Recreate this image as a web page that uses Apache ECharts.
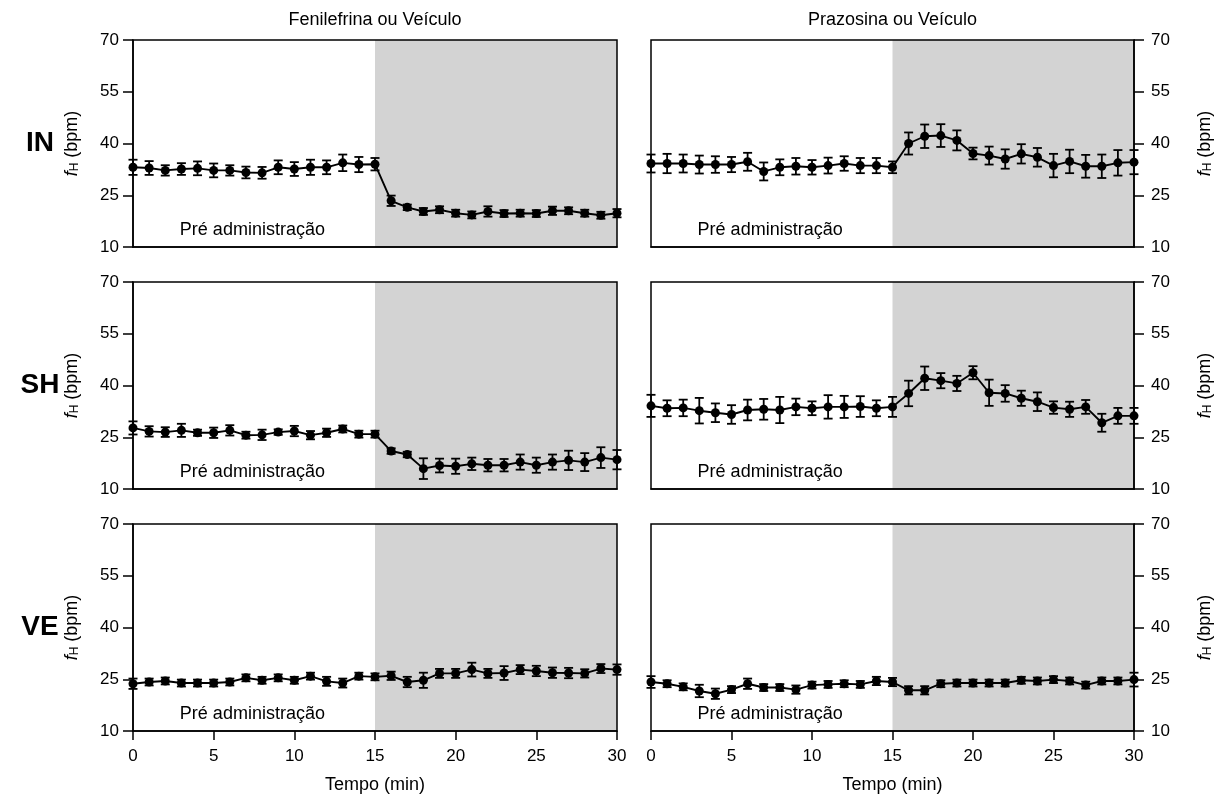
<!DOCTYPE html>
<html>
<head>
<meta charset="utf-8">
<script src="https://cdn.jsdelivr.net/npm/echarts@6/dist/echarts.min.js"></script>
<style>html,body{margin:0;padding:0;background:#fff}#c{width:1228px;height:795px}</style>
</head>
<body>
<div id="c"></div>
<script>
const minutes = [0,1,2,3,4,5,6,7,8,9,10,11,12,13,14,15,16,17,18,19,20,21,22,23,24,25,26,27,28,29,30];
const xTicks = [0,5,10,15,20,25,30];
const yTicks = [10,25,40,55,70];
const colTitles = ['Fenilefrina ou Veículo','Prazosina ou Veículo'];
const rowLabels = ['IN','SH','VE'];

const IN_fen_mean = [33.1,32.9,32.2,32.6,32.8,32.2,32.2,31.6,31.5,33.1,32.6,33.1,33.1,34.4,33.9,34.0,23.4,21.5,20.3,20.8,19.8,19.3,20.3,19.7,19.8,19.7,20.5,20.5,19.8,19.2,19.8];
const IN_fen_sem  = [2.2,2.0,1.5,1.7,2.0,2.0,1.5,1.7,1.7,2.0,2.0,2.2,2.0,2.4,2.2,1.8,1.5,0.8,1.0,1.0,1.0,1.0,1.5,1.0,1.0,1.0,1.2,1.0,1.0,1.0,1.2];
const IN_pra_mean = [34.2,34.2,34.2,33.9,33.9,33.9,34.7,31.9,33.1,33.4,33.1,33.6,34.2,33.6,33.6,33.1,40.0,42.1,42.3,40.9,37.1,36.5,35.5,37.0,36.0,33.6,34.8,33.4,33.4,34.4,34.6];
const IN_pra_sem  = [2.6,2.8,2.6,2.6,2.4,2.2,2.6,2.6,2.3,2.4,2.1,2.3,2.1,2.2,2.2,1.7,3.2,3.4,3.3,2.9,1.7,2.6,2.8,2.8,2.7,3.4,3.4,3.3,3.4,3.7,3.5];
const SH_fen_mean = [27.7,26.7,26.5,27.0,26.3,26.3,27.0,25.6,25.7,26.5,26.8,25.6,26.3,27.4,25.9,25.9,21.0,20.0,15.9,16.8,16.6,17.3,16.9,16.9,17.8,16.9,17.8,18.3,17.8,19.1,18.5];
const SH_fen_sem  = [1.9,1.5,1.4,1.9,0.9,1.5,1.5,1.0,1.5,0.8,1.5,1.2,1.2,1.0,1.0,1.0,0.8,0.8,3.0,2.0,2.2,1.8,1.8,1.8,2.2,2.2,2.2,2.8,2.6,3.0,2.8];
const SH_pra_mean = [34.1,33.4,33.5,32.7,32.1,31.6,32.9,33.1,32.9,33.8,33.4,33.8,33.8,33.9,33.4,33.8,37.7,42.1,41.4,40.6,43.7,37.9,37.7,36.3,35.3,33.6,33.1,33.8,29.2,31.2,31.2];
const SH_pra_sem  = [3.2,2.3,2.4,3.7,2.7,2.7,3.0,3.0,3.8,2.4,2.0,3.4,3.2,3.0,2.3,2.9,3.7,3.4,2.2,2.2,1.9,3.8,2.4,2.2,2.7,1.8,2.2,2.0,2.6,2.3,2.3];
const VE_fen_mean = [23.7,24.2,24.5,23.9,23.9,23.9,24.2,25.4,24.7,25.4,24.7,25.9,24.4,23.9,25.9,25.7,26.0,24.2,24.7,26.7,26.7,27.8,26.7,26.8,27.8,27.4,26.9,26.8,26.7,28.1,27.8];
const VE_fen_sem  = [1.5,1.0,1.0,1.0,1.0,1.0,1.0,1.0,1.0,1.0,1.0,1.0,1.3,1.3,1.0,1.0,1.2,1.5,2.2,1.3,1.3,2.0,1.3,2.0,1.3,1.5,1.5,1.5,1.2,1.3,1.5];
const VE_pra_mean = [24.2,23.7,22.8,21.6,20.8,22.0,23.7,22.6,22.6,22.0,23.3,23.5,23.7,23.5,24.5,24.2,21.8,21.8,23.7,23.9,23.9,23.9,23.9,24.7,24.5,24.9,24.5,23.3,24.5,24.5,24.9];
const VE_pra_sem  = [1.7,1.0,1.0,1.8,1.5,1.0,1.5,1.0,1.0,1.2,1.0,1.0,1.0,1.0,1.2,1.2,1.2,1.2,1.0,1.0,1.0,1.0,1.0,1.0,1.0,1.0,1.0,1.0,1.0,1.0,2.0];

const shadeRange = [15, 30];
const preLabelText = 'Pré administração';
const preLabelAt = [7.4, 15.0];

const panels = [
  {row:0, col:0, mean:IN_fen_mean, sem:IN_fen_sem},
  {row:0, col:1, mean:IN_pra_mean, sem:IN_pra_sem},
  {row:1, col:0, mean:SH_fen_mean, sem:SH_fen_sem},
  {row:1, col:1, mean:SH_pra_mean, sem:SH_pra_sem},
  {row:2, col:0, mean:VE_fen_mean, sem:VE_fen_sem},
  {row:2, col:1, mean:VE_pra_mean, sem:VE_pra_sem}
];

const FONT = '"Liberation Sans", Arial, sans-serif';
const rowTop = [40, 282, 524];
const rowH = 207;
const colLeft = [133, 651];
const colW = [484, 483];

const grids = [], xAxes = [], yAxes = [], series = [], graphics = [];

panels.forEach((p, i) => {
  grids.push({left: colLeft[p.col], top: rowTop[p.row], width: colW[p.col], height: rowH,
    show: true, borderColor: '#000', borderWidth: 1.5, backgroundColor: 'transparent', z: 10});
  const bottomRow = p.row === 2;
  xAxes.push({gridIndex: i, type: 'value', min: 0, max: 30, interval: 5, z: 10,
    axisLine: {show: true, onZero: false, lineStyle: {color: '#000', width: 1.5}},
    axisTick: {show: bottomRow, length: 9, lineStyle: {color: '#000', width: 1.5}},
    axisLabel: {show: bottomRow, fontSize: 17, color: '#000', margin: 17, fontFamily: FONT},
    splitLine: {show: false},
    name: bottomRow ? 'Tempo (min)' : '', nameLocation: 'middle', nameGap: 45,
    nameTextStyle: {fontSize: 18, color: '#000', fontFamily: FONT}
  });
  yAxes.push({gridIndex: i, type: 'value', min: 10, max: 70, interval: 15, z: 10,
    position: p.col === 0 ? 'left' : 'right',
    axisLine: {show: true, onZero: false, lineStyle: {color: '#000', width: 1.5}},
    axisTick: {show: true, length: 10, lineStyle: {color: '#000', width: 1.5}},
    axisLabel: {show: true, fontSize: 17, color: '#000', margin: p.col === 0 ? 14 : 17, fontFamily: FONT},
    splitLine: {show: false},
    name: '{i|f}{s|H} (bpm)', nameLocation: 'middle', nameRotate: 90,
    nameGap: p.col === 0 ? 52 : 62,
    nameTextStyle: {fontSize: 18, color: '#000', fontFamily: FONT,
      rich: {i: {fontStyle: 'italic', fontSize: 18, fontFamily: FONT, color: '#000'},
             s: {fontSize: 12, verticalAlign: 'bottom', fontFamily: FONT, color: '#000'}}}
  });
  // shading + annotation
  series.push({type: 'line', xAxisIndex: i, yAxisIndex: i, data: [], z: 1, silent: true,
    markArea: {silent: true, itemStyle: {color: '#d3d3d3'}, data: [[{xAxis: shadeRange[0]}, {xAxis: shadeRange[1]}]]}
  });
  series.push({type: 'scatter', xAxisIndex: i, yAxisIndex: i, data: [preLabelAt], symbolSize: 0, z: 4, silent: true,
    itemStyle: {opacity: 1},
    label: {show: true, position: 'inside', formatter: preLabelText, fontSize: 18, color: '#000', opacity: 1, fontFamily: FONT}
  });
  // error bars
  series.push({type: 'custom', xAxisIndex: i, yAxisIndex: i, z: 5, clip: false, silent: true,
    data: minutes.map((t, k) => [t, p.mean[k] - p.sem[k], p.mean[k] + p.sem[k]]),
    encode: {x: 0, y: [1, 2]},
    renderItem: function (params, api) {
      const x = api.value(0);
      const a = api.coord([x, api.value(1)]);
      const b = api.coord([x, api.value(2)]);
      const w = 4.5;
      const st = {stroke: '#000', lineWidth: 1.8};
      return {type: 'group', children: [
        {type: 'line', shape: {x1: a[0], y1: a[1], x2: b[0], y2: b[1]}, style: st},
        {type: 'line', shape: {x1: a[0]-w, y1: a[1], x2: a[0]+w, y2: a[1]}, style: st},
        {type: 'line', shape: {x1: b[0]-w, y1: b[1], x2: b[0]+w, y2: b[1]}, style: st}
      ]};
    }
  });
  series.push({type: 'line', xAxisIndex: i, yAxisIndex: i, z: 6, clip: false, silent: true,
    data: minutes.map((t, k) => [t, p.mean[k]]),
    symbol: 'circle', symbolSize: 9, showSymbol: true,
    itemStyle: {color: '#000'}, lineStyle: {color: '#000', width: 1.9}
  });
});

colTitles.forEach((t, c) => {
  graphics.push({type: 'text', x: colLeft[c] + colW[c] / 2, y: 20,
    style: {text: t, font: '18px ' + FONT, fill: '#000', textAlign: 'center', textVerticalAlign: 'middle'}});
});
rowLabels.forEach((t, r) => {
  graphics.push({type: 'text', x: 40, y: rowTop[r] + rowH / 2,
    style: {text: t, font: 'bold 28px ' + FONT, fill: '#000', textAlign: 'center', textVerticalAlign: 'middle'}});
});

const chart = echarts.init(document.getElementById('c'), null, {renderer: 'canvas'});
chart.setOption({
  animation: false,
  backgroundColor: '#fff',
  textStyle: {fontFamily: FONT},
  grid: grids, xAxis: xAxes, yAxis: yAxes, series: series, graphic: graphics
});
</script>
</body>
</html>
